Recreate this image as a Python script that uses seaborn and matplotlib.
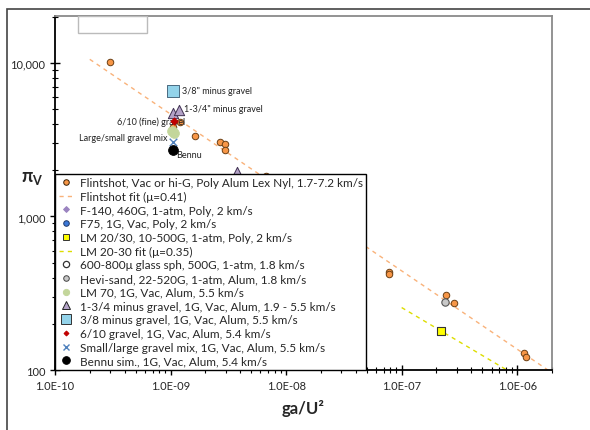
import numpy as np
import pandas as pd
import seaborn as sns
from matplotlib import pyplot as plt
from matplotlib.lines import Line2D
from matplotlib.patches import Rectangle

# flintshot experiments
flint_x = [3.0e-10, 1.05e-9, 1.2e-9, 1.63e-9, 2.7e-9, 2.96e-9, 2.96e-9, 6.7e-9,
           7.75e-8, 7.8e-8, 2.41e-7, 2.83e-7, 1.14e-6, 1.19e-6]
flint_y = [10160, 3830, 4130, 3345, 3043, 2966, 2723, 1836,
           435, 420, 310, 272, 130, 121]

f75_x = [1.70e-8]
f75_y = [679]
lm2030_x = [2.21e-7]
lm2030_y = [179]
hevi_x = [2.38e-7]
hevi_y = [277]
lm70_x = [1.02e-9, 1.08e-9]
lm70_y = [3600, 3480]
tri_x = [1.045e-9, 1.19e-9, 3.79e-9]
tri_y = [4720, 4940, 1950]
sq38_x = [1.04e-9]
sq38_y = [6570]
g610_x = [1.07e-9]
g610_y = [4190]
mix_x = [1.04e-9]
mix_y = [3040]
bennu_x = [1.04e-9]
bennu_y = [2720]

# fits: pi_V = K * pi_2^(-3mu/(2+mu))
flint_mu, flint_logK = 0.41, -0.927
flint_fit_x = [2.0e-10, 2.0e-6]
lm_mu, lm_logK = 0.35, -0.721
lm_fit_x = [1.0e-7, 8.0e-7]

sns.set_style("white")
plt.rcParams['font.family'] = ['Lato', 'DejaVu Sans']

fig = plt.figure(figsize=(5.9, 4.31), dpi=100)
ax = fig.add_axes([0.0932, 0.1392, 0.8424, 0.8214])

def fit_y(xs, mu, logK):
    xs = np.array(xs)
    return 10 ** (logK - 3 * mu / (2 + mu) * np.log10(xs))

ax.plot(flint_fit_x, fit_y(flint_fit_x, flint_mu, flint_logK), ls=(0, (3, 3)), color="#F9B27A", lw=1, zorder=1)
ax.plot(lm_fit_x, fit_y(lm_fit_x, lm_mu, lm_logK), ls=(0, (3, 3)), color="#DDDD00", lw=1, zorder=1)

sns.scatterplot(x=flint_x, y=flint_y, ax=ax, s=22, color="#F79646", edgecolor="#6b3f14", linewidth=0.7, zorder=3)
sns.scatterplot(x=f75_x, y=f75_y, ax=ax, s=28, color="#3B78D8", edgecolor="#1f3a6b", linewidth=0.7, zorder=3)
sns.scatterplot(x=lm2030_x, y=lm2030_y, ax=ax, s=40, marker="s", color="#FFFF00", edgecolor="#333333", linewidth=0.8, zorder=3)
sns.scatterplot(x=hevi_x, y=hevi_y, ax=ax, s=28, color="#C8C8C8", edgecolor="#555555", linewidth=0.8, zorder=3)
sns.scatterplot(x=lm70_x, y=lm70_y, ax=ax, s=50, color="#C3D69B", edgecolor="#C3D69B", linewidth=0.5, zorder=3)
sns.scatterplot(x=tri_x, y=tri_y, ax=ax, s=55, marker="^", color="#B3A2C7", edgecolor="#403152", linewidth=0.7, zorder=4)
sns.scatterplot(x=sq38_x, y=sq38_y, ax=ax, s=75, marker="s", color="#93D3EA", edgecolor="#4a6a80", linewidth=0.7, zorder=3)
sns.scatterplot(x=g610_x, y=g610_y, ax=ax, s=14, marker="D", color="#C00000", edgecolor="#C00000", linewidth=0.5, zorder=5)
sns.scatterplot(x=mix_x, y=mix_y, ax=ax, s=30, marker="x", color="#4F81BD", linewidth=1.0, zorder=3)
sns.scatterplot(x=bennu_x, y=bennu_y, ax=ax, s=50, color="black", edgecolor="black", zorder=4)

lab = dict(fontsize=6.5, color="#222222")
ax.text(1.25e-9, 6570, '3/8" minus gravel', va="center", ha="left", **lab)
ax.text(1.3e-9, 5050, '1-3/4" minus gravel', va="center", ha="left", **lab)
ax.text(1.35e-9, 4200, '6/10 (fine) gravel', va="center", ha="right", **lab)
ax.text(0.95e-9, 3250, 'Large/small gravel mix', va="center", ha="right", **lab)
ax.text(1.12e-9, 2550, 'Bennu', va="center", ha="left", **lab)

ax.set_xscale("log")
ax.set_yscale("log")
ax.set_xlim(1e-10, 2e-6)
ax.set_ylim(100, 20200)
ax.set_xticks([1e-10, 1e-9, 1e-8, 1e-7, 1e-6])
ax.set_xticklabels(["1.0E-10", "1.0E-09", "1.0E-08", "1.0E-07", "1.0E-06"])
ax.set_yticks([100, 1000, 10000])
ax.set_yticklabels(["100", "1,000", "10,000"])
ax.tick_params(axis="both", which="major", direction="inout", length=7, width=1, labelsize=8, color="black")
ax.tick_params(axis="both", which="minor", direction="inout", length=4, width=0.8, color="black")
ax.tick_params(axis="x", which="both", bottom=True)
ax.tick_params(axis="y", which="both", left=True)

for side in ["left", "bottom"]:
    ax.spines[side].set_color("black")
    ax.spines[side].set_linewidth(1.3)
for side in ["top", "right"]:
    ax.spines[side].set_color("#8a8a8a")
    ax.spines[side].set_linewidth(1.3)

ax.set_xlabel("ga/U²", fontsize=12, fontweight="bold", labelpad=6)
ax.set_ylabel("π$_\\mathregular{V}$", fontsize=13, fontweight="bold", rotation=0, va="center")
ax.yaxis.set_label_coords(-0.045, 0.545)

ax.add_patch(Rectangle((0.046, 0.952), 0.139, 0.048, transform=ax.transAxes,
                       facecolor="white", edgecolor="#bbbbbb", lw=1, zorder=6))

def mk(marker, fc, ec, ms, lw=0.7):
    return Line2D([], [], ls="none", marker=marker, markerfacecolor=fc, markeredgecolor=ec, markersize=ms, markeredgewidth=lw)

handles = [
    mk("o", "#F79646", "#3a2208", 4),
    Line2D([], [], ls=(0, (3, 3)), color="#F9B27A", lw=1),
    mk("D", "#9b84c0", "#9b84c0", 3),
    mk("o", "#3B78D8", "#1f3a6b", 4),
    mk("s", "#FFFF00", "#333333", 4),
    Line2D([], [], ls=(0, (3, 3)), color="#DDDD00", lw=1),
    mk("o", "white", "#333333", 4.5, 0.9),
    mk("o", "#C8C8C8", "#444444", 4),
    mk("o", "#C3D69B", "#C3D69B", 4.5),
    mk("^", "#B3A2C7", "#222222", 5.5),
    mk("s", "#93D3EA", "#333333", 6.5),
    mk("D", "#C00000", "#C00000", 2.5),
    Line2D([], [], ls="none", marker="x", color="#4F81BD", markersize=4.5, markeredgewidth=1),
    mk("o", "black", "black", 5.5),
]
labels = [
    "Flintshot, Vac or hi-G, Poly Alum Lex Nyl, 1.7-7.2 km/s",
    "Flintshot fit (μ=0.41)",
    "F-140, 460G, 1-atm, Poly, 2 km/s",
    "F75, 1G, Vac, Poly, 2 km/s",
    "LM 20/30, 10-500G, 1-atm, Poly, 2 km/s",
    "LM 20-30 fit (μ=0.35)",
    "600-800μ glass sph, 500G, 1-atm, 1.8 km/s",
    "Hevi-sand, 22-520G, 1-atm, Alum, 1.8 km/s",
    "LM 70, 1G, Vac, Alum, 5.5 km/s",
    "1-3/4 minus gravel, 1G, Vac, Alum, 1.9 - 5.5 km/s",
    "3/8 minus gravel, 1G, Vac, Alum, 5.5 km/s",
    "6/10 gravel, 1G, Vac, Alum, 5.4 km/s",
    "Small/large gravel mix, 1G, Vac, Alum, 5.5 km/s",
    "Bennu sim., 1G, Vac, Alum, 5.4 km/s",
]
leg = ax.legend(handles, labels, loc="lower left", bbox_to_anchor=(0, 0), borderaxespad=0,
                fontsize=8.5, frameon=True, fancybox=False, framealpha=1, edgecolor="black",
                handlelength=1.3, handletextpad=0.5, labelspacing=0.23, borderpad=0.3)
leg.get_frame().set_linewidth(1.0)
leg.set_zorder(7)

fig.add_artist(Rectangle((7 / 590, -0.1), 1.2, 1 - 10 / 431 + 0.1, transform=fig.transFigure,
                         facecolor="none", edgecolor="#444444", lw=1.2))

fig.savefig("out.png", dpi=100)
